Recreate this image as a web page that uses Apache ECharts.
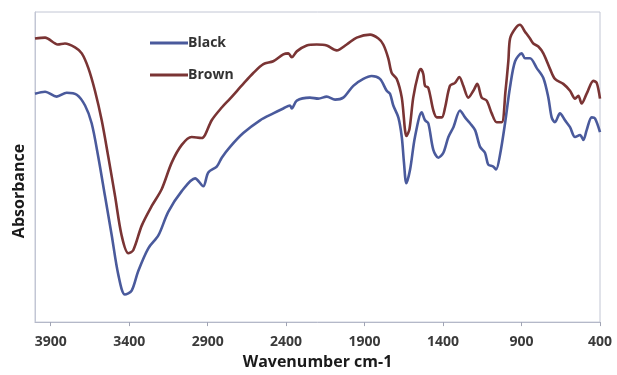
<!DOCTYPE html>
<html>
<head>
<meta charset="utf-8">
<script src="https://cdn.jsdelivr.net/npm/echarts@6/dist/echarts.min.js"></script>
<style>
  html, body { margin: 0; padding: 0; background: #ffffff; }
  #chart { width: 617px; height: 375px; }
</style>
</head>
<body>
<div id="chart"></div>
<script>
// Wavenumber (cm-1) tick labels
const tickValues = [3900, 3400, 2900, 2400, 1900, 1400, 900, 400];

// Brown sample spectrum (relative absorbance units)
const brownWn = [4000,3936,3855,3809,3745,3702,3660,3618,3575,3533,3490,3448,3406,3374,3320,3256,3193,3129,3065,3002,2938,2917,2874,2810,2757,2673,2609,2545,2482,2418,2386,2364,2332,2269,2205,2141,2078,2014,1950,1865,1812,1781,1749,1727,1695,1663,1633,1614,1590,1558,1542,1526,1515,1494,1462,1440,1408,1387,1356,1324,1296,1271,1239,1207,1182,1154,1122,1090,1058,1026,1002,984,973,941,910,878,846,825,793,761,718,687,634,591,559,538,517,485,442,421,400];
const brownAbs = [288,289,282,283,279,273,258,235,205,168,128,88,70,73,98,118,135,162,180,188,187,190,205,218,227,242,253,262,265,272,273,269,275,281,282,281,276,282,289,292,288,282,268,253,247,228,189,196,228,252,257,252,240,238,215,208,208,218,240,243,249,240,228,235,242,228,225,212,203,203,235,265,288,298,302,295,288,283,280,273,257,247,242,235,227,230,222,232,245,243,227];

// Black sample spectrum (relative absorbance units)
const blackWn = [4000,3936,3862,3798,3734,3681,3639,3597,3554,3511,3469,3427,3384,3342,3278,3214,3151,3065,2980,2928,2896,2842,2810,2757,2673,2566,2482,2418,2375,2364,2332,2248,2195,2141,2088,2036,1972,1908,1855,1802,1759,1738,1717,1685,1663,1649,1634,1610,1579,1536,1515,1494,1462,1430,1398,1366,1334,1292,1260,1228,1196,1164,1133,1112,1080,1062,1037,1005,973,941,899,878,846,803,761,729,708,687,655,623,591,559,527,506,485,453,432,400];
const blackAbs = [232,234,229,233,231,220,202,168,128,88,48,28,32,52,75,88,112,133,146,138,152,158,167,178,192,205,212,217,220,217,225,228,227,229,226,228,240,247,250,247,235,232,220,208,188,162,141,155,188,213,205,202,175,167,172,188,198,215,208,202,195,178,172,160,158,155,170,202,239,265,273,268,268,258,248,228,208,203,212,205,198,188,190,185,195,208,207,193];

const zip = (xs, ys) => xs.map((x, i) => [x, ys[i]]);

const chart = echarts.init(document.getElementById('chart'), null, { renderer: 'canvas' });
chart.setOption({
  backgroundColor: '#ffffff',
  animation: false,
  grid: {
    left: 35, right: 17, top: 12, bottom: 48,
    show: true, borderColor: '#c2c6d4', borderWidth: 1, backgroundColor: 'transparent'
  },
  legend: {
    orient: 'vertical',
    left: 145, top: 31,
    itemWidth: 38, itemHeight: 14, itemGap: 18,
    icon: 'path://M0,0H38V3H0Z',
    data: ['Black', 'Brown'],
    textStyle: { fontFamily: 'Open Sans', fontWeight: 'bold', fontSize: 14, color: '#333', padding: [0, 0, 0, -5] }
  },
  xAxis: {
    type: 'value',
    min: 400, max: 4000,
    inverse: true,
    name: 'Wavenumber cm-1',
    nameLocation: 'middle',
    nameGap: 30,
    nameTextStyle: { fontFamily: 'Open Sans', fontWeight: 'bold', fontSize: 16, color: '#1a1a1a' },
    axisLine: { show: true, lineStyle: { color: '#b4b8c8', width: 1 } },
    axisTick: { show: true, length: 4, customValues: tickValues, lineStyle: { color: '#a0a4b4' } },
    axisLabel: {
      customValues: tickValues, margin: 13,
      formatter: v => String(v),
      fontFamily: 'Open Sans', fontWeight: 'bold', fontSize: 14, color: '#3a3a3a'
    },
    splitLine: { show: false }
  },
  yAxis: {
    type: 'value',
    min: 0, max: 315,
    axisLine: { show: true, lineStyle: { color: '#c2c6d4' } },
    axisTick: { show: false },
    axisLabel: { show: false },
    splitLine: { show: false }
  },
  graphic: [{
    type: 'text',
    x: 19, y: 191,
    rotation: Math.PI / 2,
    style: {
      text: 'Absorbance',
      font: 'bold 16px "Open Sans"',
      fill: '#1a1a1a',
      textAlign: 'center',
      textVerticalAlign: 'middle'
    }
  }],
  series: [
    {
      name: 'Black', type: 'line', symbol: 'none', smooth: 0.3,
      data: zip(blackWn, blackAbs),
      lineStyle: { color: '#4a5a9c', width: 2.6 },
      itemStyle: { color: '#4a5a9c' }
    },
    {
      name: 'Brown', type: 'line', symbol: 'none', smooth: 0.3,
      data: zip(brownWn, brownAbs),
      lineStyle: { color: '#7a3434', width: 2.6 },
      itemStyle: { color: '#7a3434' }
    }
  ]
});
</script>
</body>
</html>
